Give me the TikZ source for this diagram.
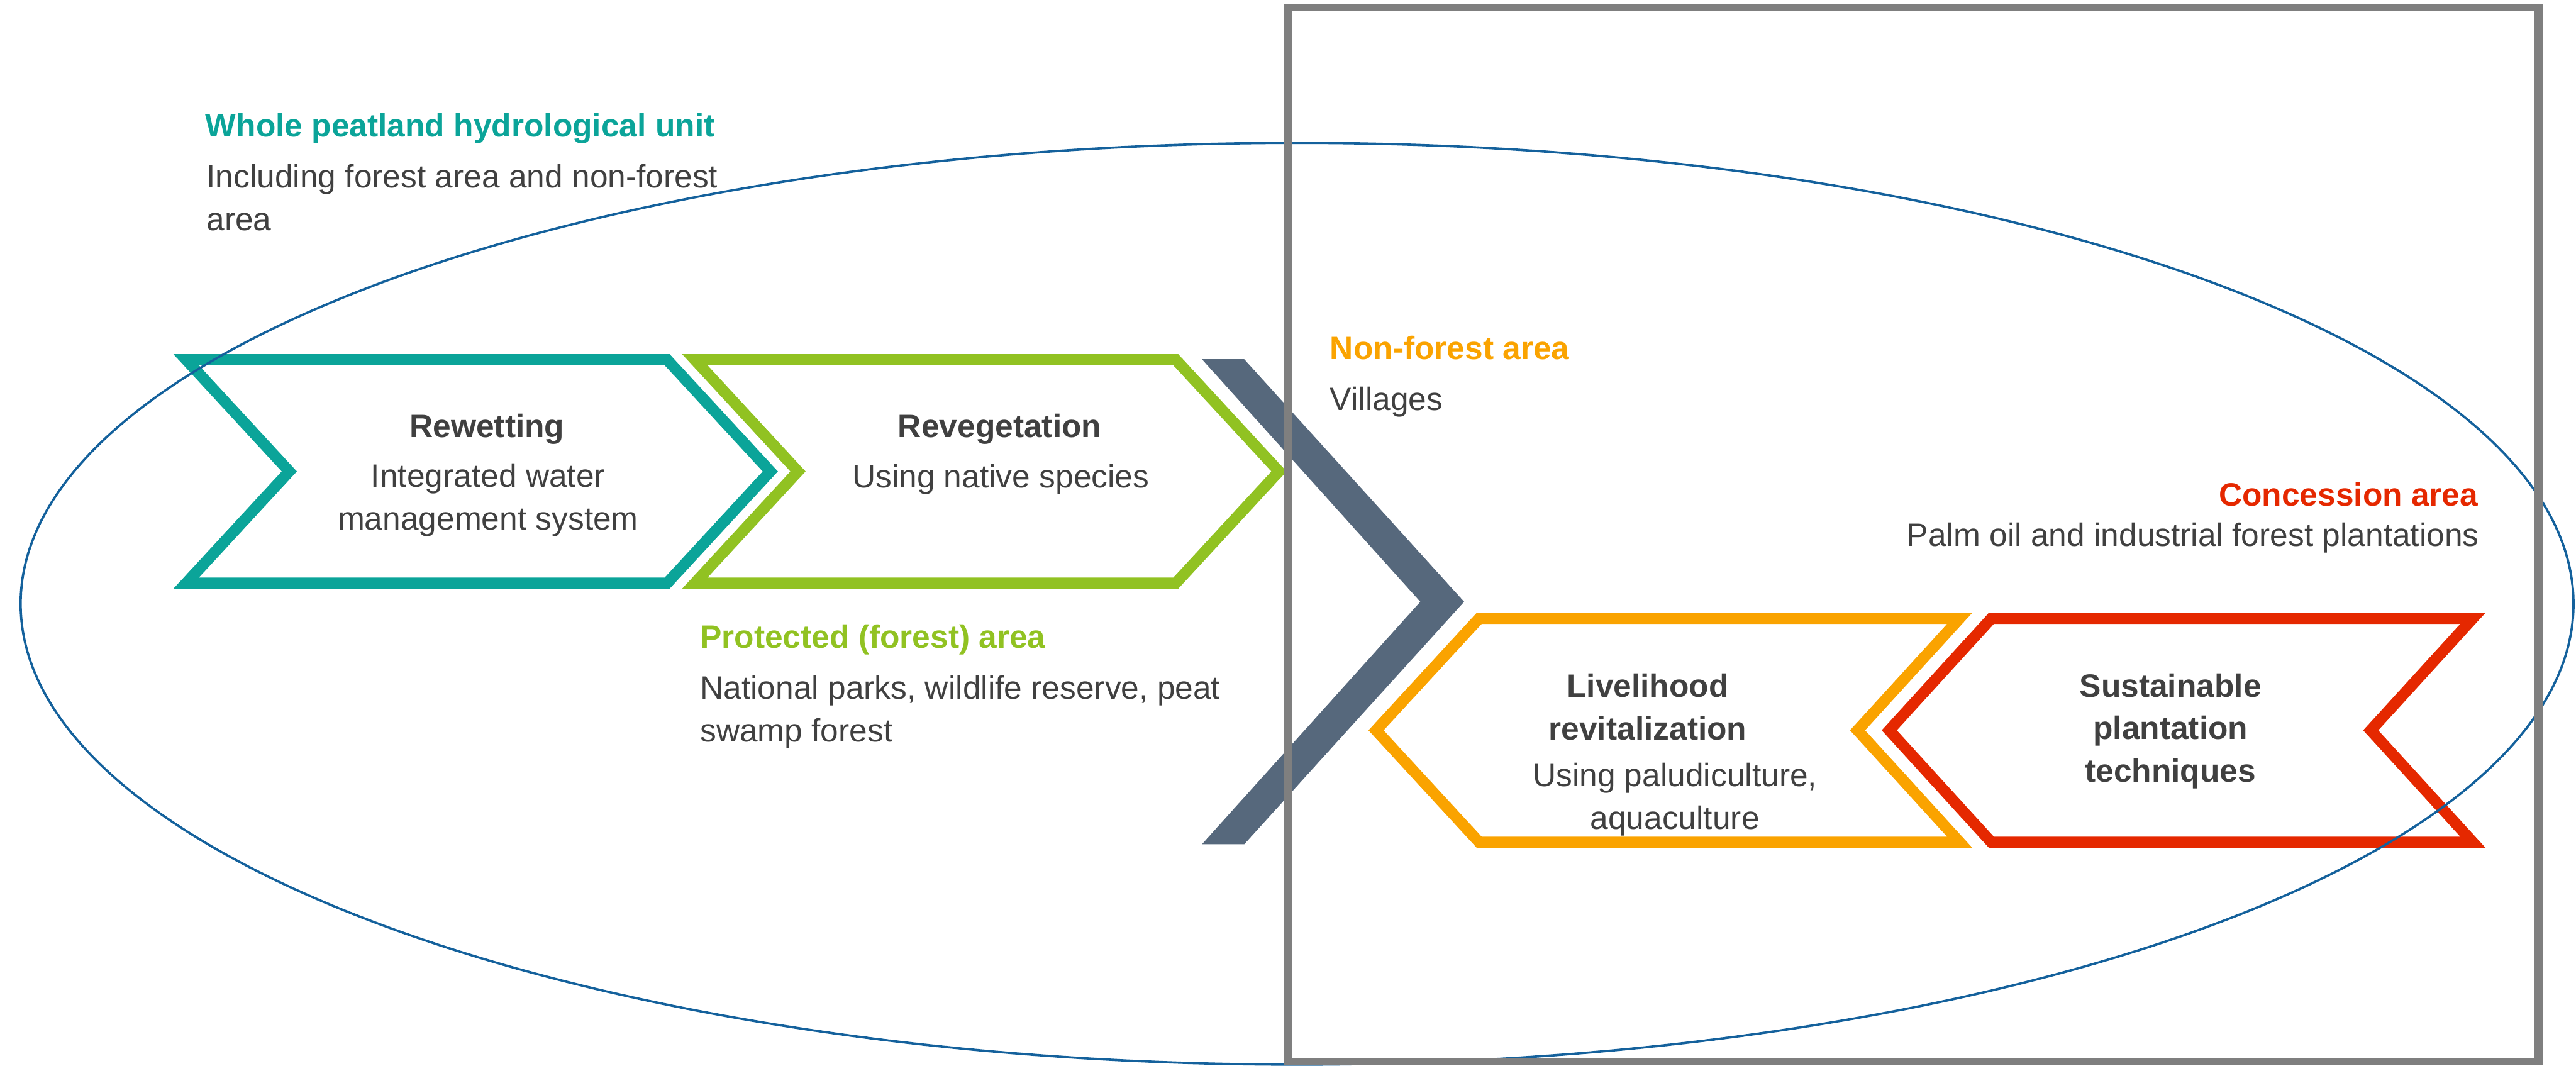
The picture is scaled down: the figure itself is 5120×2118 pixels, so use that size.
\documentclass[tikz,border=0pt]{standalone}
\usepackage{fontspec}
\setmainfont{Liberation Sans}
\usepackage{tikz}
\usetikzlibrary{positioning}
\definecolor{PeatTeal}{HTML}{0BA499}
\definecolor{ForestGreen}{HTML}{91C222}
\definecolor{SlateGray}{HTML}{56687C}
\definecolor{VillageOrange}{HTML}{FAA300}
\definecolor{ConcessionRed}{HTML}{E52800}
\definecolor{UnitBlue}{HTML}{14619C}
\definecolor{FrameGray}{HTML}{7F7F7F}
\definecolor{DarkGray}{HTML}{404040}

\begin{document}
\begin{tikzpicture}[x=0.01cm, y=-0.01cm, every node/.style={font=\fontsize{18.3}{24}\selectfont, text=DarkGray, inner sep=0pt}, head/.style={font=\fontsize{18.3}{24}\selectfont\bfseries}, note/.style={align=left}, chev/.style={line width=6.3pt, line join=miter, miter limit=10}]
        \useasboundingbox (0,0) rectangle (5120,2118);
        % forest side: chevrons pointing right
        \draw[chev, PeatTeal] (370,715) -- (1326,715) -- (1531,937) -- (1326,1159) -- (370,1159) -- (575,937) -- cycle;
        \draw[chev, ForestGreen] (1381,715) -- (2337,715) -- (2542,937) -- (2337,1159) -- (1381,1159) -- (1586,937) -- cycle;
        % divider between the two sides
        \fill[SlateGray] (2389,714) -- (2473,714) -- (2910,1196) -- (2473,1678) -- (2389,1678) -- (2823,1196) -- cycle;
        % non-forest side: chevrons pointing left
        \draw[chev, VillageOrange] (2940,1229) -- (3895,1229) -- (3692,1451.5) -- (3895,1674) -- (2940,1674) -- (2735,1451.5) -- cycle;
        \draw[chev, ConcessionRed] (3958,1229) -- (4915,1229) -- (4712,1451.5) -- (4915,1674) -- (3958,1674) -- (3755,1451.5) -- cycle;
        % hydrological unit and non-forest frame
        \draw[UnitBlue, line width=1.3pt] (2578,1200) ellipse [x radius=2537, y radius=916];
        \draw[FrameGray, line width=4.6pt] (2560,15) rectangle (5045,2110);
        % labels (multi-line nodes sit on their last baseline)
        \node[head, text=PeatTeal, anchor=base west] (unit) at (408,272) {Whole peatland hydrological unit};
        \node[note, anchor=base west] (unitnote) at (410,458) {Including forest area and non-forest\\area};
        \node[head, anchor=base] (rewet) at (968,869) {Rewetting};
        \node[note, align=center, anchor=base] (rewetnote) at (970,1053) {Integrated water\\management system};
        \node[head, anchor=base] (reveg) at (1987,869) {Revegetation};
        \node[anchor=base] (revegnote) at (1989,969) {Using native species};
        \node[head, text=ForestGreen, anchor=base west] (protected) at (1391,1288) {Protected (forest) area};
        \node[note, anchor=base west] (protectednote) at (1391,1474) {National parks, wildlife reserve, peat\\swamp forest};
        \node[head, text=VillageOrange, anchor=base west] (nonforest) at (2643,714) {Non-forest area};
        \node[anchor=base west] (villages) at (2643,816) {Villages};
        \node[head, text=ConcessionRed, anchor=base east] (concession) at (4926,1006) {Concession area};
        \node[anchor=base east] (concessionnote) at (4928,1085) {Palm oil and industrial forest plantations};
        \node[head, align=center, anchor=base] (livelihood) at (3275,1470) {Livelihood\\revitalization};
        \node[note, align=center, anchor=base] (livelihoodnote) at (3329,1648) {Using paludiculture,\\aquaculture};
        \node[head, align=center, anchor=base] (sustain) at (4314,1554) {Sustainable\\plantation\\techniques};
    \end{tikzpicture}
\end{document}
